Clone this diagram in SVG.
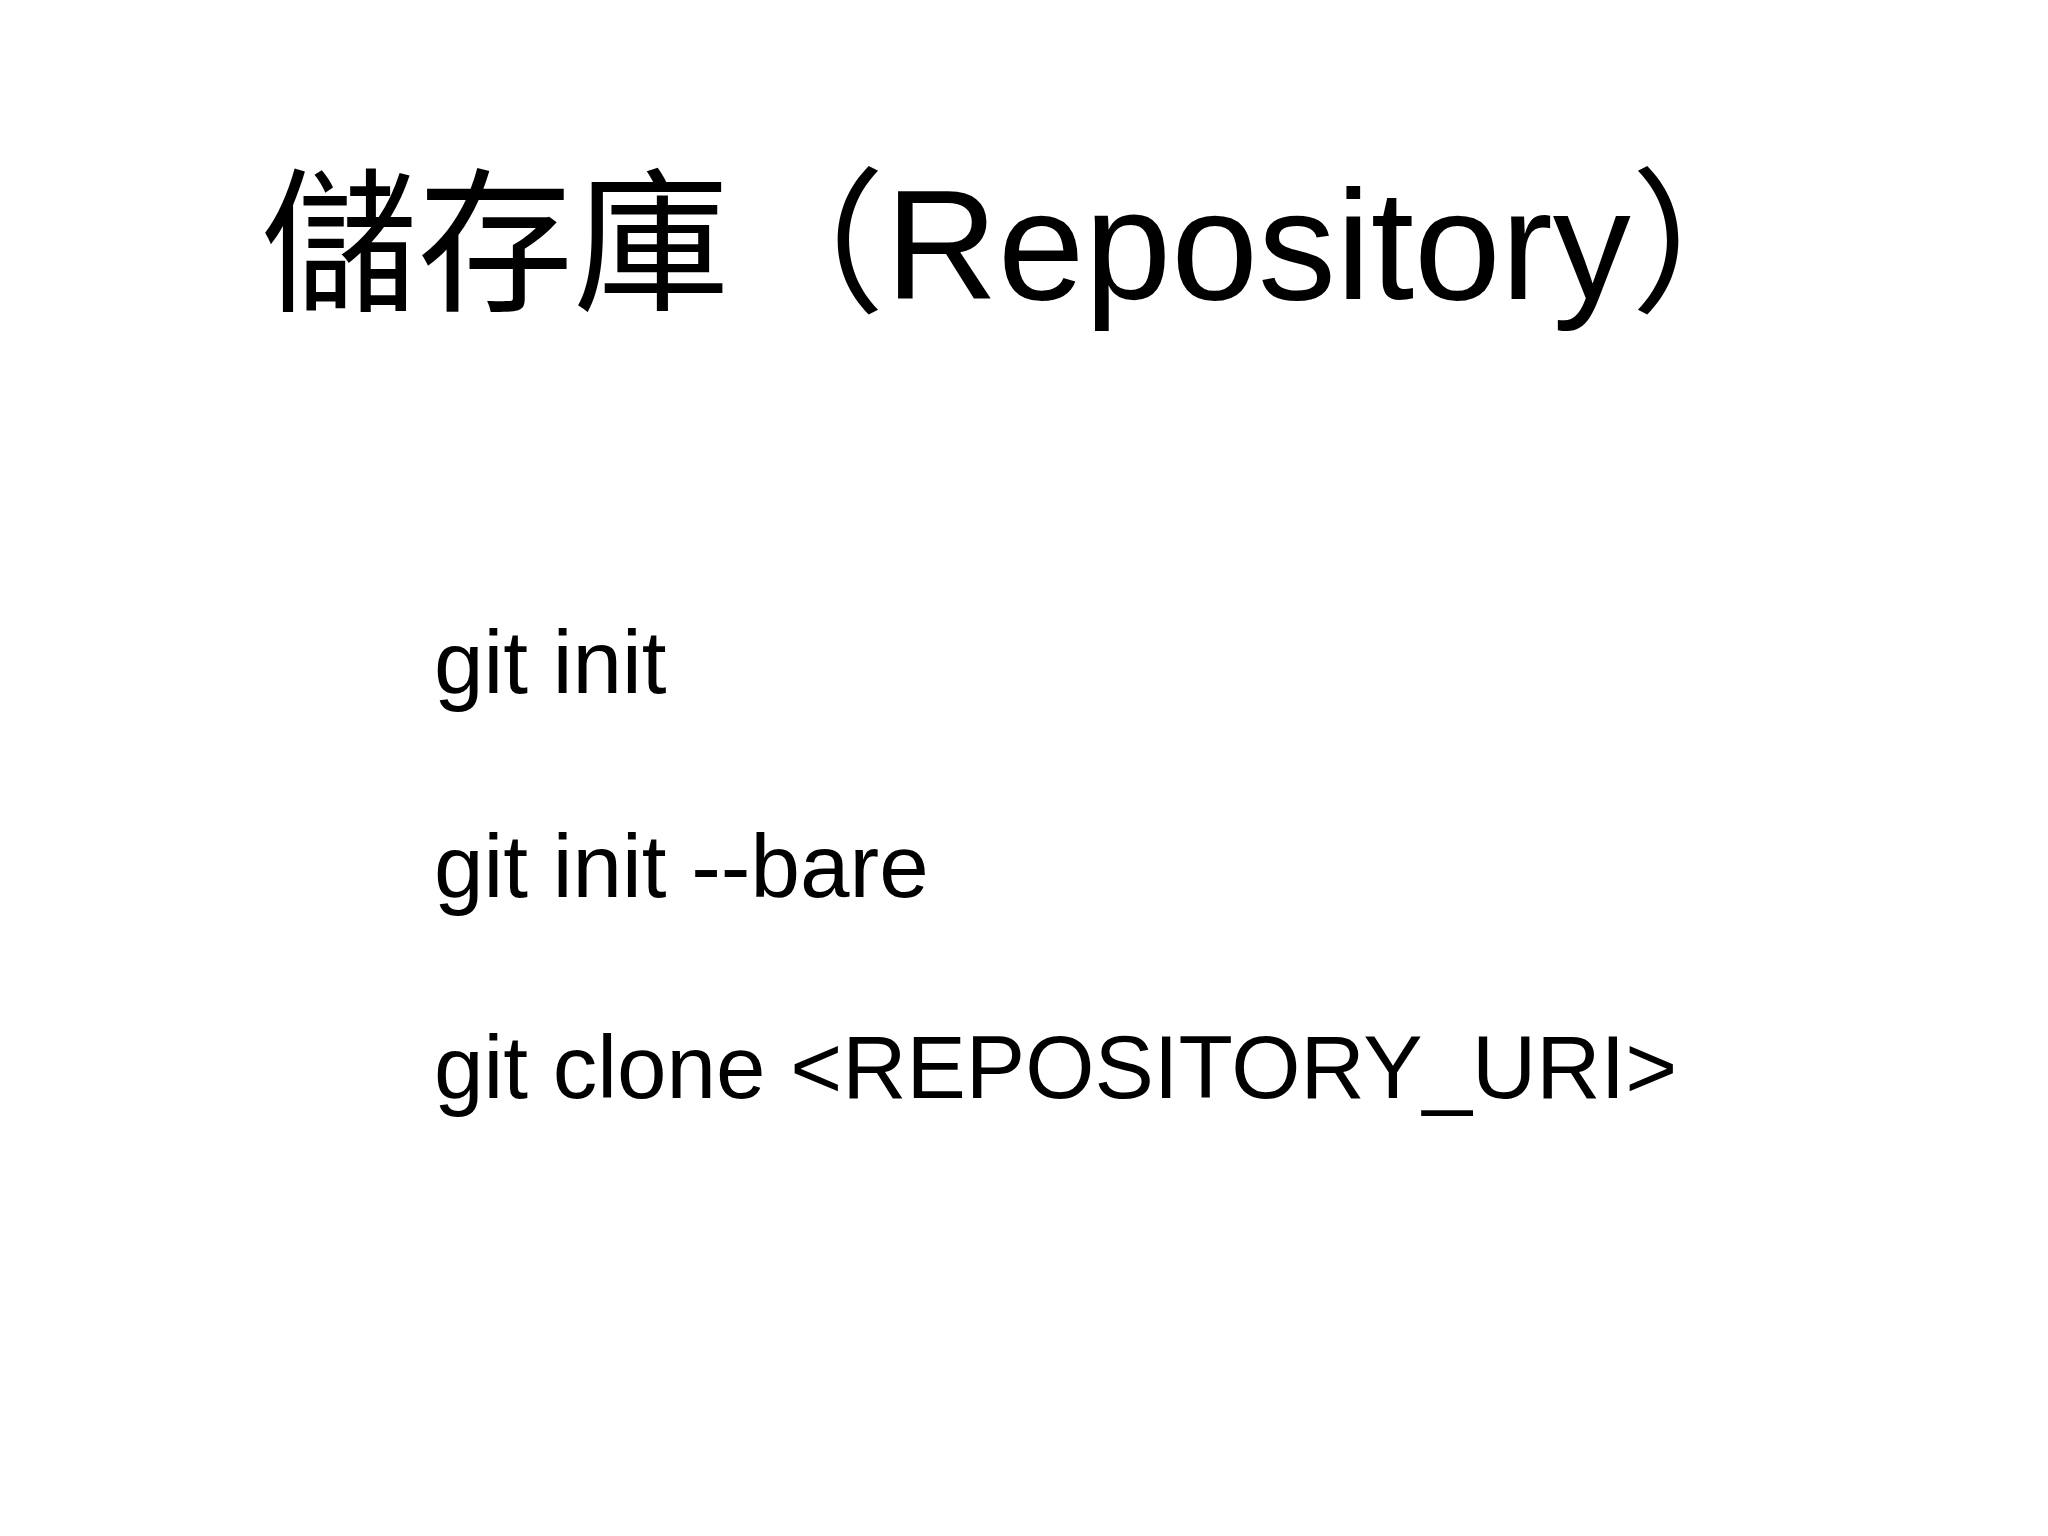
<svg xmlns="http://www.w3.org/2000/svg" width="2048" height="1536" viewBox="0 0 2048 1536">
<style>
.t{font-family:"Helvetica","Liberation Sans","Noto Sans CJK TC",sans-serif;fill:#000}
.b{font-size:89px}
</style>
<rect width="2048" height="1536" fill="#fff"/>
<g id="title"><text class="t" x="1024" y="299" font-size="156" text-anchor="middle">儲存庫（Repository）</text></g>
<g id="commands">
<text class="t b" x="434" y="693">git init</text>
<text class="t b" x="434" y="897">git init --bare</text>
<text class="t b" x="434" y="1098">git clone &lt;REPOSITORY_URI&gt;</text>
</g>
</svg>
